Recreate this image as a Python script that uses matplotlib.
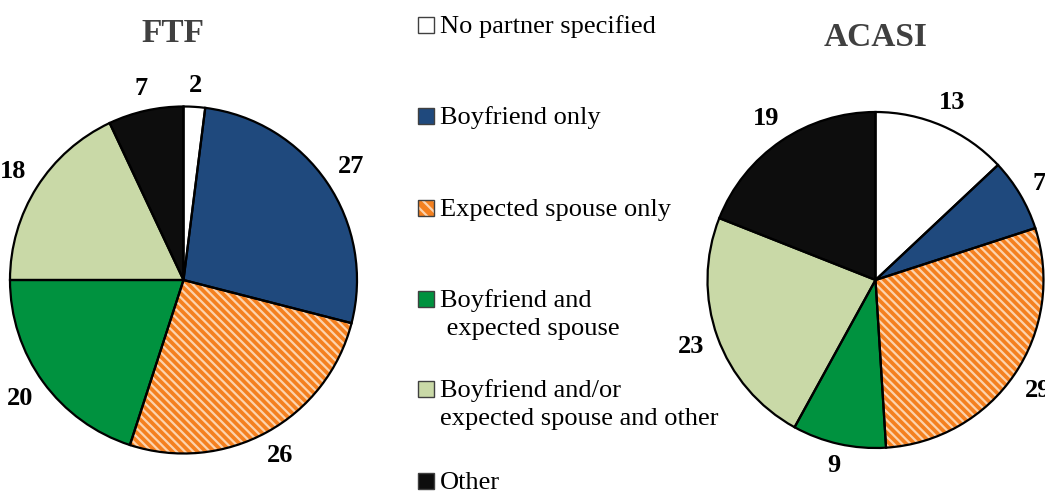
import matplotlib
matplotlib.use("Agg")
import matplotlib.pyplot as plt
from matplotlib.patches import Rectangle
import numpy as np

categories = ["No partner specified", "Boyfriend only", "Expected spouse only",
              "Boyfriend and\n expected spouse", "Boyfriend and/or\nexpected spouse and other", "Other"]
ftf_values = [2, 27, 26, 20, 18, 7]
acasi_values = [13, 7, 29, 9, 23, 19]
colors = ["#FFFFFF", "#1F497D", "#F4801F", "#00923F", "#C9D9A7", "#0D0D0D"]
hatches = [None, None, "\\\\\\\\", None, None, None]

plt.rcParams['font.family'] = ['Liberation Serif', 'DejaVu Serif']
plt.rcParams['hatch.linewidth'] = 1.6

fig = plt.figure(figsize=(10.45, 4.94), dpi=100)
W, H = 1045, 494
LBL_FS = 19

def draw_pie(cx, cy, r, values, title, ty):
    side = 2.6 * r
    ax = fig.add_axes([(cx - side / 2) / W, (H - cy - side / 2) / H, side / W, side / H])
    wedges, _ = ax.pie(values, colors=colors, startangle=90, counterclock=False,
                       radius=1, wedgeprops=dict(linewidth=0, edgecolor="#FCD3AE"))
    for w, h in zip(wedges, hatches):
        if h:
            w.set_hatch(h)
    ax.pie(values, colors=['none'] * len(values), startangle=90, counterclock=False,
           radius=1, wedgeprops=dict(linewidth=1.6, edgecolor="black", fill=False))
    ax.set_xlim(-1.3, 1.3)
    ax.set_ylim(-1.3, 1.3)
    ax.set_aspect('equal')
    ax.axis('off')
    total = sum(values)
    ang = 90.0
    px = LBL_FS * 100 / 72.0
    for v in values:
        mid = ang - v / total * 360 / 2
        ang -= v / total * 360
        t = np.deg2rad(mid)
        c, s = np.cos(t), np.sin(t)
        hw = 0.26 * px * len(str(v))
        hh = 0.34 * px
        support = (hw * abs(c) + hh * abs(s)) / r
        d = 1.07 + support
        ax.text(d * c, d * s, str(v), ha='center', va='center',
                fontsize=LBL_FS, fontweight='bold', color='black')
    fig.text(ty[0] / W, 1 - ty[1] / H, title, ha='center', va='center',
             fontsize=24, fontweight='bold', color='#404040')

draw_pie(183.5, 280, 173.5, ftf_values, "FTF", (173, 33))
draw_pie(875.5, 280, 168, acasi_values, "ACASI", (876, 38))

# legend
marker_y = [25, 116, 208, 299, 389, 481]
for lab, c, h, y in zip(categories, colors, hatches, marker_y):
    rect = (418 / W, 1 - (y + 8) / H)
    if h:
        fig.patches.append(Rectangle(rect, 16 / W, 16 / H, transform=fig.transFigure,
                                     facecolor=c, edgecolor="#FCD3AE", hatch="\\\\\\",
                                     linewidth=0))
        fig.patches.append(Rectangle(rect, 16 / W, 16 / H, transform=fig.transFigure,
                                     fill=False, edgecolor="#404040", linewidth=1))
    else:
        fig.patches.append(Rectangle(rect, 16 / W, 16 / H, transform=fig.transFigure,
                                     facecolor=c, edgecolor="#404040", linewidth=1))
    for i, line in enumerate(lab.split("\n")):
        fig.text(440 / W, 1 - (y + 8 + i * 28) / H, line, ha='left', va='baseline',
                 fontsize=19, color='black')

fig.savefig("out.png", dpi=100)
